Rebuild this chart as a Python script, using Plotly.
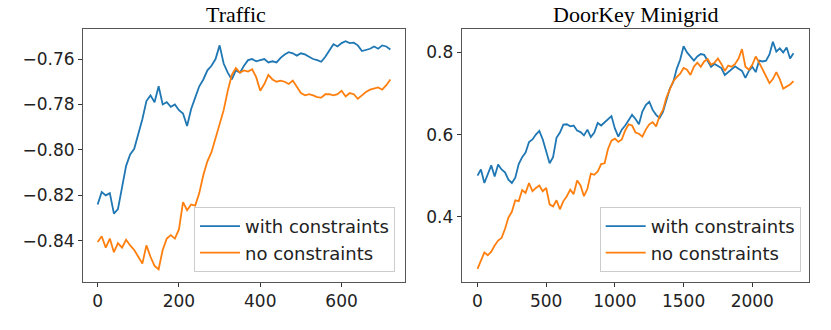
import plotly.graph_objects as go

# Traffic panel
traffic_steps = list(range(0, 730, 10))
traffic_with = [
    -0.8240, -0.8185, -0.8200, -0.8190, -0.8280, -0.8260, -0.8165, -0.8070, -0.8020, -0.7995,
    -0.7930, -0.7865, -0.7785, -0.7760, -0.7790, -0.7720, -0.7800, -0.7790, -0.7810, -0.7800,
    -0.7825, -0.7840, -0.7895, -0.7820, -0.7770, -0.7720, -0.7690, -0.7650, -0.7630, -0.7600,
    -0.7540, -0.7620, -0.7660, -0.7690, -0.7650, -0.7660, -0.7630, -0.7605, -0.7600, -0.7610,
    -0.7605, -0.7600, -0.7615, -0.7610, -0.7615, -0.7595, -0.7580, -0.7570, -0.7575, -0.7585,
    -0.7575, -0.7580, -0.7590, -0.7600, -0.7605, -0.7612, -0.7590, -0.7560, -0.7535, -0.7545,
    -0.7530, -0.7522, -0.7530, -0.7528, -0.7540, -0.7565, -0.7560, -0.7555, -0.7545, -0.7555,
    -0.7540, -0.7545, -0.7558,
]
traffic_without = [
    -0.8405, -0.8380, -0.8430, -0.8390, -0.8450, -0.8410, -0.8430, -0.8395, -0.8420, -0.8440,
    -0.8470, -0.8500, -0.8420, -0.8470, -0.8510, -0.8525, -0.8440, -0.8390, -0.8375, -0.8390,
    -0.8350, -0.8230, -0.8265, -0.8240, -0.8245, -0.8190, -0.8110, -0.8050, -0.8010, -0.7950,
    -0.7890, -0.7825, -0.7740, -0.7670, -0.7640, -0.7660, -0.7650, -0.7655, -0.7645, -0.7680,
    -0.7740, -0.7710, -0.7670, -0.7690, -0.7700, -0.7695, -0.7700, -0.7710, -0.7695, -0.7720,
    -0.7750, -0.7760, -0.7755, -0.7760, -0.7768, -0.7770, -0.7755, -0.7755, -0.7760, -0.7755,
    -0.7740, -0.7765, -0.7750, -0.7755, -0.7775, -0.7760, -0.7745, -0.7735, -0.7730, -0.7725,
    -0.7735, -0.7715, -0.7690,
]

# DoorKey panel
doorkey_steps = list(range(0, 2325, 25))
doorkey_with = [
    0.500, 0.515, 0.482, 0.505, 0.525, 0.498, 0.527, 0.515, 0.508, 0.490,
    0.482, 0.495, 0.528, 0.545, 0.556, 0.582, 0.588, 0.600, 0.609, 0.588,
    0.558, 0.530, 0.545, 0.592, 0.605, 0.624, 0.625, 0.620, 0.622, 0.610,
    0.606, 0.598, 0.612, 0.594, 0.605, 0.628, 0.622, 0.630, 0.638, 0.645,
    0.615, 0.595, 0.612, 0.622, 0.635, 0.648, 0.638, 0.625, 0.656, 0.672,
    0.680, 0.660, 0.648, 0.640, 0.655, 0.685, 0.712, 0.728, 0.760, 0.782,
    0.815, 0.800, 0.790, 0.780, 0.790, 0.796, 0.794, 0.780, 0.765, 0.772,
    0.768, 0.762, 0.745, 0.752, 0.760, 0.766, 0.760, 0.755, 0.738, 0.755,
    0.765, 0.752, 0.780, 0.778, 0.780, 0.795, 0.826, 0.802, 0.810, 0.800,
    0.812, 0.785, 0.798,
]
doorkey_without = [
    0.273, 0.295, 0.313, 0.306, 0.315, 0.330, 0.342, 0.348, 0.370, 0.398,
    0.412, 0.440, 0.438, 0.465, 0.458, 0.482, 0.462, 0.470, 0.476, 0.462,
    0.470, 0.430, 0.425, 0.440, 0.418, 0.438, 0.450, 0.466, 0.455, 0.488,
    0.476, 0.450, 0.468, 0.505, 0.502, 0.510, 0.528, 0.530, 0.565, 0.585,
    0.590, 0.582, 0.588, 0.610, 0.625, 0.622, 0.605, 0.602, 0.595, 0.612,
    0.625, 0.630, 0.620, 0.645, 0.660, 0.690, 0.712, 0.730, 0.740, 0.748,
    0.762, 0.758, 0.745, 0.765, 0.775, 0.765, 0.778, 0.784, 0.770, 0.775,
    0.785, 0.772, 0.755, 0.768, 0.765, 0.772, 0.785, 0.808, 0.765, 0.758,
    0.770, 0.790, 0.775, 0.760, 0.742, 0.725, 0.735, 0.752, 0.735, 0.712,
    0.716, 0.722, 0.730,
]

titles = ["Traffic", "DoorKey Minigrid"]
series_names = ["with constraints", "no constraints"]
colors = ["#1f77b4", "#ff7f0e"]

left_yticks = [-0.84, -0.82, -0.80, -0.78, -0.76]
left_yticktext = ["\u22120.84", "\u22120.82", "\u22120.80", "\u22120.78", "\u22120.76"]
left_xticks = [0, 200, 400, 600]
right_yticks = [0.4, 0.6, 0.8]
right_yticktext = ["0.4", "0.6", "0.8"]
right_xticks = [0, 500, 1000, 1500, 2000]

W, H = 831, 330
fig = go.Figure()

panels = [
    (traffic_steps, [traffic_with, traffic_without], "x", "y", "legend"),
    (doorkey_steps, [doorkey_with, doorkey_without], "x2", "y2", "legend2"),
]
for steps, ys, xa, ya, lg in panels:
    for i, (vals, name) in enumerate(zip(ys, series_names)):
        fig.add_trace(go.Scatter(
            x=steps, y=vals, mode="lines", name=name,
            line=dict(color=colors[i], width=1.8),
            xaxis=xa, yaxis=ya, legend=lg, legendgroup=lg + str(i),
        ))

ydom = [1 - 282 / H, 1 - 29 / H]
axis_common = dict(
    showline=True, mirror=True, linecolor="#555", linewidth=1,
    ticks="outside", ticklen=4, tickcolor="#333", showgrid=False, zeroline=False,
    automargin=False,
    tickfont=dict(family="DejaVu Sans", size=17, color="#222"),
)
legend_common = dict(
    xanchor="right", yanchor="bottom",
    bgcolor="rgba(255,255,255,0.8)", bordercolor="#cccccc", borderwidth=1,
    font=dict(family="DejaVu Sans", size=18, color="#222"),
    traceorder="grouped", tracegroupgap=0, itemwidth=40,
)
fig.update_layout(
    width=W, height=H,
    margin=dict(l=0, r=0, t=0, b=0),
    paper_bgcolor="white", plot_bgcolor="white",
    xaxis=dict(domain=[83 / W, 405 / W], range=[-36, 756], tickvals=left_xticks, anchor="y", **axis_common),
    yaxis=dict(domain=ydom, range=[-0.8581, -0.7468], tickvals=left_yticks, ticktext=left_yticktext, anchor="x", **axis_common),
    xaxis2=dict(domain=[461.7 / W, 809.3 / W], range=[-115, 2415], tickvals=right_xticks, anchor="y2", **axis_common),
    yaxis2=dict(domain=ydom, range=[0.241, 0.857], tickvals=right_yticks, ticktext=right_yticktext, anchor="x2", **axis_common),
    legend=dict(x=395 / W, y=1 - 272 / H, **legend_common),
    legend2=dict(x=800.7 / W, y=1 - 272 / H, **legend_common),
    showlegend=True,
)

for title, cx in zip(titles, [236, 636]):
    fig.add_annotation(
        text=title, x=cx / W, y=1 - 15 / H, xref="paper", yref="paper",
        xanchor="center", yanchor="middle", showarrow=False,
        font=dict(family="Liberation Serif", size=22, color="black"),
    )

fig.write_html("out.html", config={"displayModeBar": False},
               post_script="document.body.style.margin='0';")
